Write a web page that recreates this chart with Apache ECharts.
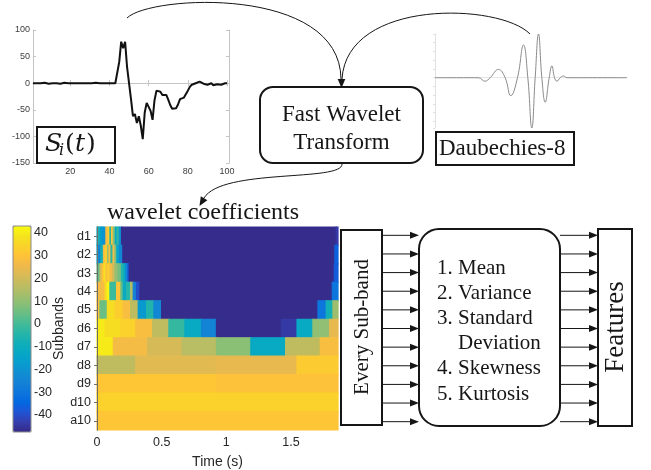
<!DOCTYPE html>
<html>
<head>
<meta charset="utf-8">
<script src="https://cdn.jsdelivr.net/npm/echarts@6/dist/echarts.min.js"></script>
<style>
  html, body { margin: 0; padding: 0; background: #fff; }
  #chart { width: 651px; height: 470px; }
</style>
</head>
<body>
<div id="chart"></div>
<script>
// ---------- input signal S_i(t), samples 1..100 ----------
const signalValues = [
  0, 1, 0, -1, 0, 0, 1, 0, -1, 0,
  0, 1, 0, 0, -1, 0, 1, 1, 0, 0,
  0, -1, 0, 1, 0, 0, 0, 1, 0, -1,
  0, 0, 1, 0, 0, -1, 0, 1, 0, 0,
  0, 1, 0, 2, 40, 78, 66, 78, 30, 0,
  -30, -62, -58, -75, -62, -80, -105, -55, -37, -34,
  -52, -69, -32, -14, -12, -16, -22, -20, -22, -31,
  -41, -48, -50, -47, -40, -30, -29, -27, -24, -14,
  -7, -3, -1, 0, 2, 3, 1, -1, -3, -3,
  -1, 0, -4, -5, -2, -1, -3, -2, 0, 0
];
const signalXTicks = [20, 40, 60, 80, 100];

// ---------- Daubechies-8 mother wavelet (extrema and zero crossings) ----------
const waveletPos = [0, 26, 30, 33, 38, 42, 45.4, 49.4, 53, 55.6, 58, 60, 62, 64, 66, 68.4, 70, 71.6, 73, 75, 77, 79, 115];
const waveletAmp = [0, 0, -0.08, 0, 0.19, 0, -0.41, 0, 0.75, 0, -1.15, 0, 1.0, 0, -0.56, 0, 0.27, 0, -0.08, 0, 0.04, 0, 0];

// ---------- wavelet coefficients per subband: cell edges (s) and values ----------
const subbands = ['d1', 'd2', 'd3', 'd4', 'd5', 'd6', 'd7', 'd8', 'd9', 'd10', 'a10'];
const timeTicks = [0, 0.5, 1, 1.5];
const colorbarTicks = [-40, -30, -20, -10, 0, 10, 20, 30, 40];

const d1Edges = [0, 0.012, 0.023, 0.035, 0.049, 0.069, 0.087, 0.1, 0.113, 0.126, 0.142, 0.157, 0.172, 0.19, 1.85, 1.864];
const d1Coef  = [-12, -6, -15, -18, -20, 28, 33, -4, 30, 8, -12, -2, -20, -47, -44];
const d2Edges = [0, 0.015, 0.03, 0.05, 0.062, 0.082, 0.093, 0.108, 0.124, 0.139, 0.154, 0.175, 0.2, 1.84, 1.864];
const d2Coef  = [-12, -26, -8, 26, 33, 10, 28, -3, 27, 8, -14, -24, -47, -36];
const d3Edges = [0, 0.025, 0.04, 0.055, 0.07, 0.085, 0.1, 0.12, 0.14, 0.165, 0.19, 0.21, 0.225, 0.24, 0.25, 1.835, 1.864];
const d3Coef  = [5, 22, 30, 38, 28, 34, 27, 20, 10, 6, -5, -13, -25, -38, -47, -37];
const d4Edges = [0, 0.062, 0.08, 0.1, 0.152, 0.185, 0.203, 0.229, 0.26, 0.28, 0.306, 0.332, 1.82, 1.864];
const d4Coef  = [27, 36, 42, -1, 30, 5, -12, -4, 15, -26, -40, -47, -30];
const d5Edges = [0, 0.023, 0.08, 0.139, 0.203, 0.26, 0.319, 0.384, 0.44, 0.5, 1.709, 1.773, 1.825, 1.864];
const d5Coef  = [30, 5, 37, 33, 28, 17, -18, -5, -24, -47, -30, -8, 12];
const d6Edges = [0, 0.062, 0.183, 0.3, 0.43, 0.556, 0.68, 0.808, 0.924, 1.426, 1.547, 1.67, 1.8, 1.864];
const d6Coef  = [40, 37, 34, 28, 17, -2, -12, -25, -47, -44, -12, 10, 24];
const d7Edges = [0, 0.126, 0.391, 0.659, 0.924, 1.19, 1.459, 1.727, 1.864];
const d7Coef  = [40, 27, 21, 16, 9, -12, 17, 28];
const d8Edges = [0, 0.3, 0.924, 1.547, 1.864];
const d8Coef  = [17, 23, 24, 32];
const d9Edges = [0, 0.924, 1.864];
const d9Coef  = [31, 29.5];
const d10Edges = [0, 1.864];
const d10Coef  = [34];
const a10Edges = [0, 1.864];
const a10Coef  = [30.5];

const featureLines = ['1. Mean', '2. Variance', '3. Standard', '    Deviation', '4. Skewness', '5. Kurtosis'];

// ---------- build heatmap cells [t0, t1, row, value] ----------
const bandEdges = [d1Edges, d2Edges, d3Edges, d4Edges, d5Edges, d6Edges, d7Edges, d8Edges, d9Edges, d10Edges, a10Edges];
const bandCoef  = [d1Coef, d2Coef, d3Coef, d4Coef, d5Coef, d6Coef, d7Coef, d8Coef, d9Coef, d10Coef, a10Coef];
const cells = [];
bandEdges.forEach((edges, row) => {
  bandCoef[row].forEach((v, k) => cells.push([edges[k], edges[k + 1], row, v]));
});

const parula = ['#352a87', '#353dad', '#2053d4', '#0268e1', '#0d75dc', '#1481d6', '#108ed2', '#079ccf',
  '#06a7c6', '#0faeb9', '#25b5a9', '#42bb98', '#65be86', '#87bf77', '#a5be6b', '#c0bc60',
  '#d9ba56', '#f1b94a', '#ffc337', '#f9d32a', '#f5e41d', '#f9fb0e'];

const SANS = '"Liberation Sans", Arial, sans-serif';
const SERIF = '"Liberation Serif", "Times New Roman", serif';
const INK = '#161616';

// ---------- layout ----------
const gSig = { left: 33, top: 30, width: 196, height: 133 };
const gWav = { left: 435, top: 34, width: 192, height: 94 };
const gHeat = { left: 97, top: 227, width: 241, height: 205 };
const gBar = { left: 13, top: 226, width: 18, height: 206 };

const chart = echarts.init(document.getElementById('chart'), null, { renderer: 'canvas' });

// ---------- diagram graphics (boxes, arrows, captions) ----------
function head(tip, from, len, half) {
  len = len || 9; half = half || 3.8;
  const dx = tip[0] - from[0], dy = tip[1] - from[1];
  const L = Math.hypot(dx, dy), ux = dx / L, uy = dy / L;
  const bx = tip[0] - ux * len, by = tip[1] - uy * len;
  return { type: 'polygon', z: 120, silent: true,
    shape: { points: [tip, [bx - uy * half, by + ux * half], [bx + uy * half, by - ux * half]] },
    style: { fill: INK } };
}
function curve(p0, c1, c2, p1) {
  return { type: 'bezierCurve', z: 110, silent: true,
    shape: { x1: p0[0], y1: p0[1], cpx1: c1[0], cpy1: c1[1], cpx2: c2[0], cpy2: c2[1], x2: p1[0], y2: p1[1] },
    style: { stroke: INK, lineWidth: 1, fill: null } };
}
function txt(x, y, s, font, opt) {
  opt = opt || {};
  return { type: 'text', z: 130, silent: true, x: x, y: y, rotation: opt.rotation || 0,
    style: { text: s, font: font, fill: INK,
      textAlign: opt.align || 'left', align: opt.align || 'left',
      textVerticalAlign: 'middle', verticalAlign: 'middle' } };
}
function box(x, y, w, h, r) {
  return { type: 'rect', z: 100, silent: true, shape: { x: x, y: y, width: w, height: h, r: r || 0 },
    style: { fill: '#fff', stroke: INK, lineWidth: 2 } };
}

const graphics = [];
// S_i(t) label box
graphics.push(box(37, 127, 78, 36));
graphics.push(txt(45, 144, 'S', 'italic 25px "DejaVu Serif", serif'));
graphics.push(txt(59, 151, 'i', 'italic 16px "DejaVu Serif", serif'));
graphics.push(txt(65, 144, '(', '25px "DejaVu Serif", serif'));
graphics.push(txt(75, 144, 't', 'italic 25px "DejaVu Serif", serif'));
graphics.push(txt(86, 144, ')', '25px "DejaVu Serif", serif'));

// Fast Wavelet Transform
graphics.push(box(260, 87, 163, 76, 13));
graphics.push(txt(341.5, 115, 'Fast Wavelet', '23px ' + SERIF, { align: 'center' }));
graphics.push(txt(341.5, 143, 'Transform', '23px ' + SERIF, { align: 'center' }));

// Daubechies-8 caption
graphics.push(box(436, 132, 138, 33));
graphics.push(txt(439, 149, 'Daubechies-8', '23px ' + SERIF));

// arrows into and out of the transform
graphics.push(curve([127, 18], [150, -5], [340, -15], [341, 79]));
graphics.push(curve([530, 34], [500, 3], [347, -2], [342, 79]));
graphics.push(head([341.5, 88], [341.5, 78]));
graphics.push(curve([342, 164], [343, 182], [222, 168], [204, 198]));
graphics.push(head([199.5, 206], [206, 195]));

graphics.push(txt(107, 213, 'wavelet coefficients', '24px ' + SERIF));

// feature extraction block
const rowH = gHeat.height / subbands.length;
graphics.push(box(341, 230, 41, 195));
graphics.push(txt(362, 327, 'Every Sub-band', '21px ' + SERIF, { align: 'center', rotation: Math.PI / 2 }));
graphics.push(box(419, 229, 141, 197, 20));
featureLines.forEach((s, i) => graphics.push(txt(437, 268 + i * 25.2, s, '21px ' + SERIF)));
graphics.push(box(598, 229, 34, 197));
graphics.push(txt(616, 327, 'Features', '27px ' + SERIF, { align: 'center', rotation: Math.PI / 2 }));
subbands.forEach((_, i) => {
  const y = gHeat.top + rowH * (i + 0.5) - 1;
  graphics.push({ type: 'line', z: 110, silent: true, shape: { x1: 382, y1: y, x2: 412, y2: y }, style: { stroke: INK, lineWidth: 1 } });
  graphics.push(head([419, y], [400, y], 9, 3.5));
  graphics.push({ type: 'line', z: 110, silent: true, shape: { x1: 560, y1: y, x2: 591, y2: y }, style: { stroke: INK, lineWidth: 1 } });
  graphics.push(head([598, y], [580, y], 9, 3.5));
});
// colorbar frame
graphics.push({ type: 'rect', z: 100, silent: true,
  shape: { x: gBar.left, y: gBar.top, width: gBar.width, height: gBar.height },
  style: { fill: null, stroke: '#8c8c8c', lineWidth: 1 } });

// ---------- axes ----------
const sigLine = { lineStyle: { color: '#c4c4c4', width: 1 } };
const sigLabel = { fontSize: 9, color: '#3c3c3c', fontFamily: SANS };
const heatLine = { lineStyle: { color: '#6e6e6e', width: 1 } };
const heatLabel = { fontSize: 12.5, color: '#262626', fontFamily: SANS };

const option = {
  animation: false,
  backgroundColor: '#fff',
  grid: [
    Object.assign({}, gSig),
    Object.assign({}, gWav),
    Object.assign({}, gHeat),
    Object.assign({}, gBar)
  ],
  xAxis: [
    { gridIndex: 0, type: 'value', min: 1, max: 101, axisLine: sigLine,
      axisTick: { inside: true, length: 3, customValues: signalXTicks, lineStyle: sigLine.lineStyle },
      axisLabel: Object.assign({ margin: 4, customValues: signalXTicks }, sigLabel), splitLine: { show: false } },
    { gridIndex: 0, type: 'value', position: 'top', min: 1, max: 101, axisLine: sigLine,
      axisTick: { inside: true, length: 3, customValues: signalXTicks, lineStyle: sigLine.lineStyle },
      axisLabel: { show: false }, splitLine: { show: false } },
    { gridIndex: 1, type: 'value', min: 0, max: 115, axisLine: { lineStyle: { color: '#e6e6e6' } },
      axisTick: { show: false }, axisLabel: { show: false }, splitLine: { show: false } },
    { gridIndex: 2, type: 'value', min: 0, max: 1.864, z: 10, axisLine: heatLine,
      axisTick: { inside: true, length: 3, customValues: timeTicks, lineStyle: heatLine.lineStyle },
      axisLabel: Object.assign({ margin: 6, customValues: timeTicks }, heatLabel), splitLine: { show: false },
      name: 'Time (s)', nameLocation: 'middle', nameGap: 25,
      nameTextStyle: { fontSize: 14, color: '#262626', fontFamily: SANS } },
    { gridIndex: 2, type: 'value', position: 'top', min: 0, max: 1.864, z: 10, axisLine: heatLine,
      axisTick: { inside: true, length: 3, customValues: timeTicks, lineStyle: heatLine.lineStyle },
      axisLabel: { show: false }, splitLine: { show: false } },
    { gridIndex: 3, type: 'value', min: 0, max: 1, show: false }
  ],
  yAxis: [
    { gridIndex: 0, type: 'value', min: -150, max: 100, interval: 50, axisLine: Object.assign({ show: true }, sigLine),
      axisTick: { show: true, inside: true, length: 3, lineStyle: sigLine.lineStyle },
      axisLabel: Object.assign({ margin: 3 }, sigLabel), splitLine: { show: false } },
    { gridIndex: 0, type: 'value', position: 'right', min: -150, max: 100, interval: 50, axisLine: Object.assign({ show: true }, sigLine),
      axisTick: { show: true, inside: true, length: 3, lineStyle: sigLine.lineStyle },
      axisLabel: { show: false }, splitLine: { show: false } },
    { gridIndex: 1, type: 'value', min: -1.15, max: 1.0, splitNumber: 10,
      axisLine: { show: true, lineStyle: { color: '#e2e2e2' } },
      axisTick: { show: true, length: 2, lineStyle: { color: '#e2e2e2' } },
      axisLabel: { show: false }, splitLine: { show: false } },
    { gridIndex: 2, type: 'category', data: subbands, inverse: true, z: 10,
      axisLine: Object.assign({ show: true }, heatLine),
      axisTick: { show: true, inside: false, length: 3, alignWithLabel: true, lineStyle: heatLine.lineStyle },
      axisLabel: Object.assign({ margin: 6 }, heatLabel), splitLine: { show: false },
      name: 'Subbands', nameLocation: 'middle', nameGap: 31, nameRotate: 90,
      nameTextStyle: { fontSize: 14, color: '#262626', fontFamily: SANS } },
    { gridIndex: 2, type: 'category', data: subbands, inverse: true, position: 'right', z: 10,
      axisLine: Object.assign({ show: true }, heatLine),
      axisTick: { show: true, inside: true, length: 3, alignWithLabel: true, lineStyle: heatLine.lineStyle },
      axisLabel: { show: false }, splitLine: { show: false } },
    { gridIndex: 3, type: 'value', position: 'right', min: -47.5, max: 43,
      axisLine: { show: false },
      axisTick: { show: true, length: 3, customValues: colorbarTicks, lineStyle: { color: '#6e6e6e' } },
      axisLabel: Object.assign({ margin: 3, customValues: colorbarTicks }, heatLabel), splitLine: { show: false } }
  ],
  visualMap: {
    type: 'continuous', seriesIndex: 2, dimension: 3,
    min: -47.5, max: 43, calculable: false, hoverLink: false,
    left: gBar.left, top: gBar.top, itemWidth: gBar.width, itemHeight: gBar.height, padding: 0,
    inRange: { color: parula }, outOfRange: { color: '#352a87' }
  },
  series: [
    { type: 'line', xAxisIndex: 0, yAxisIndex: 0, symbol: 'none', silent: true,
      data: signalValues.map((v, i) => [i + 1, v]),
      lineStyle: { color: '#111', width: 2 } },
    { type: 'line', xAxisIndex: 2, yAxisIndex: 2, symbol: 'none', silent: true, smooth: 0.45,
      data: waveletPos.map((p, i) => [p, waveletAmp[i]]),
      lineStyle: { color: '#8a8a8a', width: 1 } },
    { type: 'custom', xAxisIndex: 3, yAxisIndex: 3, silent: true,
      encode: { x: [0, 1], y: 2 },
      data: cells,
      renderItem: function (params, api) {
        const a = api.coord([api.value(0), api.value(2)]);
        const b = api.coord([api.value(1), api.value(2)]);
        const h = api.size([0, 1])[1];
        const c = api.visual('color');
        return { type: 'rect',
          shape: { x: a[0], y: a[1] - h / 2, width: b[0] - a[0], height: h },
          style: { fill: c, stroke: c, lineWidth: 1.2 } };
      } }
  ],
  graphic: { elements: graphics }
};

chart.setOption(option);
</script>
</body>
</html>
